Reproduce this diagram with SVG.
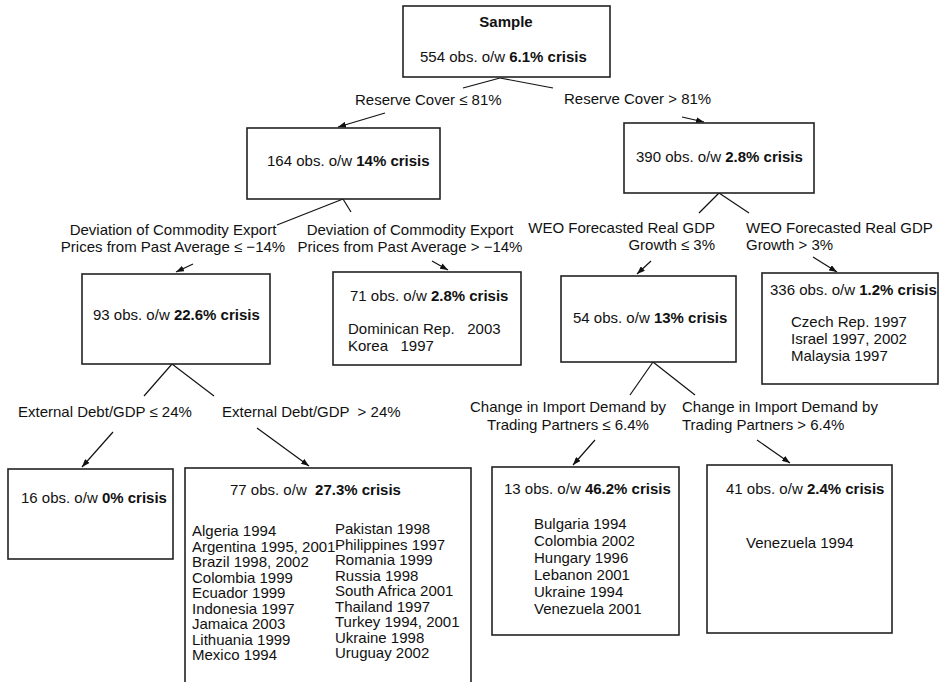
<svg xmlns="http://www.w3.org/2000/svg" width="940" height="682" viewBox="0 0 940 682">
<style>
text{font-family:"Liberation Sans",Arial,Helvetica,sans-serif;font-size:15px;fill:#111}
.b{font-weight:bold}
rect{fill:#fff;stroke:#222;stroke-width:1.6}
line{stroke:#111;stroke-width:1.2}
.ar{marker-end:url(#ah)}
</style>
<defs>
<marker id="ah" markerUnits="userSpaceOnUse" markerWidth="8" markerHeight="6" refX="8" refY="3" orient="auto">
<path d="M0,0 L8,3 L0,6 z" fill="#111"/>
</marker>
</defs>
<rect x="0" y="0" width="940" height="682" style="stroke:none"/>
<g id="connectors">
<line x1="500" y1="78" x2="463" y2="88"/>
<line x1="500" y1="78" x2="553" y2="88"/>
<line class="ar" x1="385" y1="113" x2="338" y2="127"/>
<line class="ar" x1="682" y1="117" x2="704" y2="122"/>
<line x1="343" y1="199" x2="277" y2="225"/>
<line x1="343" y1="199" x2="351" y2="212"/>
<line class="ar" x1="193" y1="264" x2="176" y2="272"/>
<line class="ar" x1="432" y1="261" x2="448" y2="270"/>
<line x1="719" y1="193" x2="699" y2="213"/>
<line x1="719" y1="193" x2="749" y2="213"/>
<line class="ar" x1="651" y1="261" x2="637" y2="274"/>
<line class="ar" x1="813" y1="257" x2="837" y2="272"/>
<line x1="172" y1="364" x2="144" y2="396"/>
<line x1="172" y1="364" x2="214" y2="396"/>
<line class="ar" x1="113" y1="432" x2="82" y2="467"/>
<line class="ar" x1="257" y1="428" x2="309" y2="466"/>
<line x1="653" y1="362" x2="630" y2="395"/>
<line x1="653" y1="362" x2="695" y2="395"/>
<line class="ar" x1="595" y1="440" x2="573" y2="465"/>
<line class="ar" x1="757" y1="440" x2="790" y2="463"/>
</g>
<g id="labels">
<text x="355" y="105">Reserve Cover ≤ 81%</text>
<text x="564" y="104">Reserve Cover &gt; 81%</text>
<text x="173" y="235" text-anchor="middle">Deviation of Commodity Export</text>
<text x="173" y="252" text-anchor="middle">Prices from Past Average ≤ −14%</text>
<text x="410" y="235" text-anchor="middle">Deviation of Commodity Export</text>
<text x="410" y="252" text-anchor="middle">Prices from Past Average &gt; −14%</text>
<text x="715" y="233" text-anchor="end">WEO Forecasted Real GDP</text>
<text x="715" y="250" text-anchor="end">Growth ≤ 3%</text>
<text x="746" y="233">WEO Forecasted Real GDP</text>
<text x="746" y="250">Growth &gt; 3%</text>
<text x="18" y="417">External Debt/GDP ≤ 24%</text>
<text x="222" y="417" xml:space="preserve">External Debt/GDP  &gt; 24%</text>
<text x="568" y="412" text-anchor="middle">Change in Import Demand by</text>
<text x="568" y="430" text-anchor="middle">Trading Partners ≤ 6.4%</text>
<text x="682" y="412">Change in Import Demand by</text>
<text x="682" y="430">Trading Partners &gt; 6.4%</text>
</g>
<g id="n-sample">
<rect x="403" y="6" width="207" height="71"/>
<text class="b" x="506" y="27" text-anchor="middle">Sample</text>
<text x="420" y="62">554 obs. o/w <tspan class="b">6.1% crisis</tspan></text>
</g>
<g id="n-164">
<rect x="247" y="128" width="193" height="71"/>
<text x="267" y="166">164 obs. o/w <tspan class="b">14% crisis</tspan></text>
</g>
<g id="n-390">
<rect x="624" y="123" width="190" height="70"/>
<text x="636" y="162">390 obs. o/w <tspan class="b">2.8% crisis</tspan></text>
</g>
<g id="n-93">
<rect x="82" y="274" width="188" height="90"/>
<text x="93" y="320">93 obs. o/w <tspan class="b">22.6% crisis</tspan></text>
</g>
<g id="n-71">
<rect x="333" y="272" width="188" height="93"/>
<text x="350" y="301">71 obs. o/w <tspan class="b">2.8% crisis</tspan></text>
<text x="348" y="334" xml:space="preserve">Dominican Rep.   2003</text>
<text x="348" y="351" xml:space="preserve">Korea   1997</text>
</g>
<g id="n-54">
<rect x="561" y="276" width="175" height="86"/>
<text x="573" y="323">54 obs. o/w <tspan class="b">13% crisis</tspan></text>
</g>
<g id="n-336">
<rect x="762" y="273" width="176" height="111"/>
<text x="770" y="295">336 obs. o/w <tspan class="b">1.2% crisis</tspan></text>
<text x="791" y="327">Czech Rep. 1997</text>
<text x="791" y="344">Israel 1997, 2002</text>
<text x="791" y="361">Malaysia 1997</text>
</g>
<g id="n-16">
<rect x="8" y="469" width="165" height="90"/>
<text x="21" y="503">16 obs. o/w <tspan class="b">0% crisis</tspan></text>
</g>
<g id="n-77">
<rect x="185" y="468" width="286" height="220"/>
<text x="230" y="495" xml:space="preserve">77 obs. o/w  <tspan class="b">27.3% crisis</tspan></text>
<text x="192" y="536">Algeria 1994</text>
<text x="192" y="551.5">Argentina 1995, 2001</text>
<text x="192" y="567">Brazil 1998, 2002</text>
<text x="192" y="582.5">Colombia 1999</text>
<text x="192" y="598">Ecuador 1999</text>
<text x="192" y="613.5">Indonesia 1997</text>
<text x="192" y="629">Jamaica 2003</text>
<text x="192" y="644.5">Lithuania 1999</text>
<text x="192" y="660">Mexico 1994</text>
<text x="335" y="534">Pakistan 1998</text>
<text x="335" y="549.5">Philippines 1997</text>
<text x="335" y="565">Romania 1999</text>
<text x="335" y="580.5">Russia 1998</text>
<text x="335" y="596">South Africa 2001</text>
<text x="335" y="611.5">Thailand 1997</text>
<text x="335" y="627">Turkey 1994, 2001</text>
<text x="335" y="642.5">Ukraine 1998</text>
<text x="335" y="658">Uruguay 2002</text>
</g>
<g id="n-13">
<rect x="492" y="467" width="187" height="168"/>
<text x="504" y="494">13 obs. o/w <tspan class="b">46.2% crisis</tspan></text>
<text x="534" y="529">Bulgaria 1994</text>
<text x="534" y="546">Colombia 2002</text>
<text x="534" y="563">Hungary 1996</text>
<text x="534" y="580">Lebanon 2001</text>
<text x="534" y="597">Ukraine 1994</text>
<text x="534" y="614">Venezuela 2001</text>
</g>
<g id="n-41">
<rect x="707" y="465" width="185" height="168"/>
<text x="726" y="494">41 obs. o/w <tspan class="b">2.4% crisis</tspan></text>
<text x="746" y="548">Venezuela 1994</text>
</g>
</svg>
